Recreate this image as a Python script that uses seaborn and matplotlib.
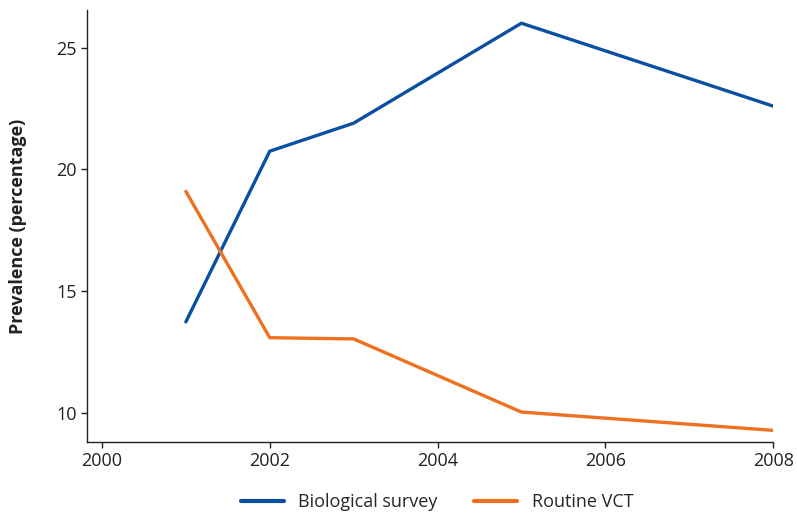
import pandas as pd
import matplotlib
matplotlib.use("Agg")
import matplotlib.pyplot as plt
import seaborn as sns

years = [2001, 2002, 2003, 2005, 2008]
bio_survey = [13.75, 20.75, 21.9, 26.0, 22.6]
routine_vct = [19.1, 13.1, 13.05, 10.05, 9.3]
series_names = ["Biological survey", "Routine VCT"]
x_ticks = [2000, 2002, 2004, 2006, 2008]
y_ticks = [10, 15, 20, 25]

df = pd.DataFrame({
    "year": years * 2,
    "value": bio_survey + routine_vct,
    "series": [series_names[0]] * len(years) + [series_names[1]] * len(years),
})

sns.set_style("ticks")
plt.rcParams["font.family"] = ["Open Sans", "DejaVu Sans"]

fig = plt.figure(figsize=(7.97, 5.14), dpi=100)
ax = fig.add_axes([0.109, 0.14, 0.861, 0.84])

sns.lineplot(data=df, x="year", y="value", hue="series",
             palette=["#0b4fa0", "#f07022"], linewidth=2.4, ax=ax)

ax.set_xlim(1999.82, 2008.0)
ax.set_ylim(8.82, 26.53)
ax.set_xticks(x_ticks)
ax.set_yticks(y_ticks)
ax.tick_params(labelsize=13, length=4, width=1, colors="#222222")
ax.set_xlabel("")
ax.set_ylabel("Prevalence (percentage)", fontsize=13, fontweight="bold", color="#222222")
ax.yaxis.set_label_coords(-0.087, 0.5)
for s in ["top", "right"]:
    ax.spines[s].set_visible(False)
for s in ["left", "bottom"]:
    ax.spines[s].set_color("#222222")
    ax.spines[s].set_linewidth(1)

leg = ax.legend(loc="upper center", bbox_to_anchor=(0.51, -0.08), ncol=2,
                frameon=False, fontsize=13, handlelength=2.4, columnspacing=2.0)
for line in leg.get_lines():
    line.set_linewidth(3)

fig.savefig("out.png", dpi=100)
